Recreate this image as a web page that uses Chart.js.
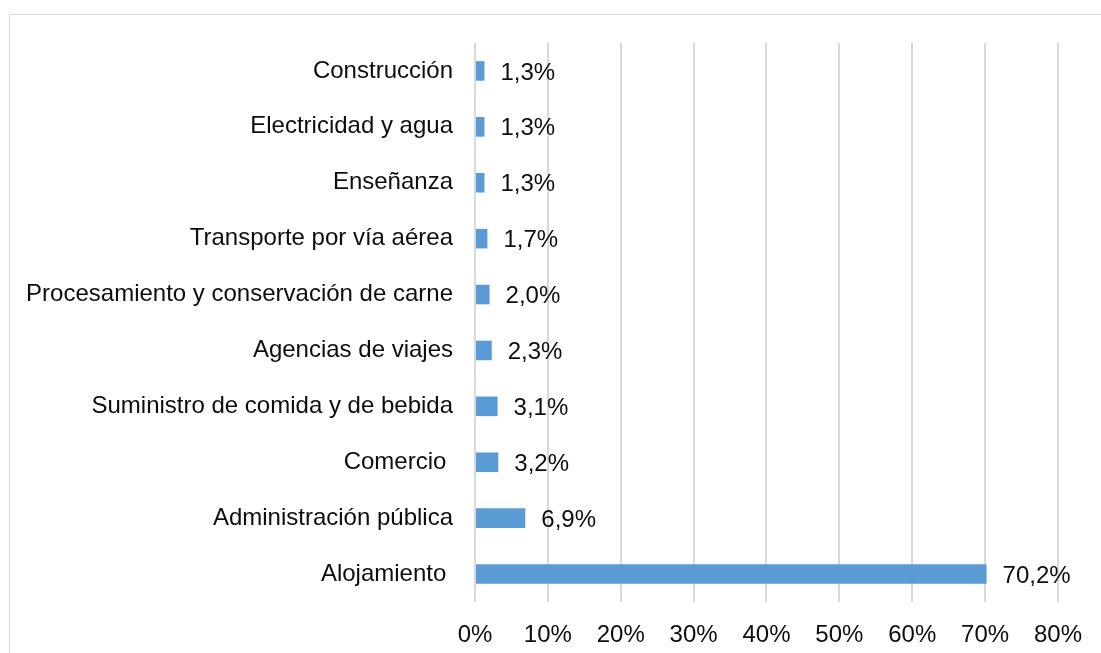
<!DOCTYPE html>
<html>
<head>
<meta charset="utf-8">
<script src="https://cdn.jsdelivr.net/npm/chart.js@4/dist/chart.umd.min.js"></script>
<style>
html,body{margin:0;padding:0;background:#fff;overflow:hidden;}
#wrap{position:relative;width:1101px;height:653px;}
#frame{position:absolute;left:9px;top:14px;width:1100px;height:650px;border:1px solid #d9d9d9;box-sizing:border-box;pointer-events:none;}
canvas{position:absolute;left:0;top:0;}
</style>
</head>
<body>
<div id="wrap">
<canvas id="c" width="1101" height="653"></canvas>
<div id="frame"></div>
</div>
<script>
const categories = [
  "Construcción",
  "Electricidad y agua",
  "Enseñanza",
  "Transporte por vía aérea",
  "Procesamiento y conservación de carne",
  "Agencias de viajes",
  "Suministro de comida y de bebida",
  "Comercio ",
  "Administración pública",
  "Alojamiento "
];
const shares = [1.3, 1.3, 1.3, 1.7, 2.0, 2.3, 3.1, 3.2, 6.9, 70.2];
const xTicks = [0, 10, 20, 30, 40, 50, 60, 70, 80];

const FONT = "Liberation Sans, Arial, sans-serif";
const FSIZE = 24;

const valueLabels = {
  id: 'valueLabels',
  afterDatasetsDraw(chart) {
    const ctx = chart.ctx;
    const meta = chart.getDatasetMeta(0);
    ctx.save();
    ctx.font = FSIZE + "px " + FONT;
    ctx.fillStyle = "#0d0d0d";
    ctx.textAlign = "left";
    ctx.textBaseline = "middle";
    meta.data.forEach((bar, i) => {
      const txt = shares[i].toFixed(1).replace('.', ',') + '%';
      ctx.fillText(txt, bar.x + 16, bar.y + 2);
    });
    ctx.restore();
  }
};

new Chart(document.getElementById('c'), {
  type: 'bar',
  data: {
    labels: categories,
    datasets: [{
      data: shares,
      backgroundColor: '#5b9bd5',
      borderWidth: 0,
      categoryPercentage: 1,
      barPercentage: 0.35
    }]
  },
  options: {
    indexAxis: 'y',
    responsive: false,
    animation: false,
    devicePixelRatio: 1,
    layout: { padding: { left: 0, right: 39, top: 43, bottom: 0 } },
    plugins: { legend: { display: false }, tooltip: { enabled: false } },
    scales: {
      x: {
        min: 0, max: 80,
        afterBuildTicks(scale) { scale.ticks = xTicks.map(v => ({ value: v })); },
        afterFit(scale) { scale.height = 51; },
        grid: { color: '#d9d9d9', lineWidth: 2, drawTicks: false },
        border: { display: false },
        ticks: {
          padding: 19,
          color: '#0d0d0d',
          font: { family: FONT, size: FSIZE },
          callback: v => v + '%'
        }
      },
      y: {
        afterFit(scale) { scale.width = 475; },
        grid: { display: false, drawTicks: false },
        border: { display: false },
        ticks: {
          padding: 22,
          color: '#0d0d0d',
          font: { family: FONT, size: FSIZE, lineHeight: 1.05 }
        }
      }
    }
  },
  plugins: [valueLabels]
});
</script>
</body>
</html>
